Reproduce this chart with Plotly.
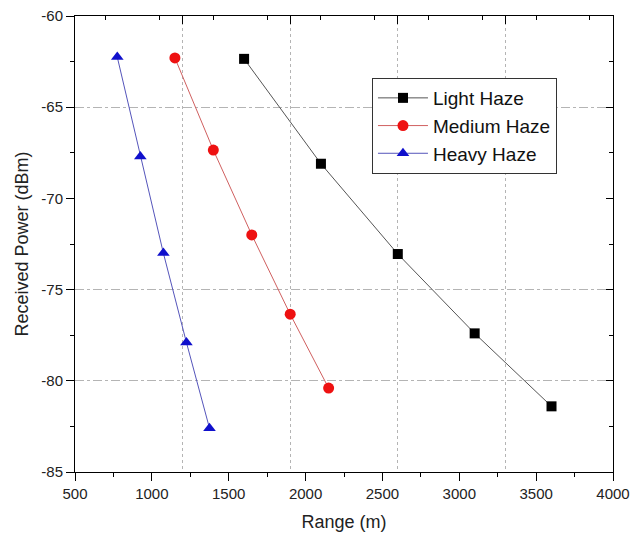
import plotly.graph_objects as go

# Received power versus link range for three haze conditions
light_range = [1600, 2100, 2600, 3100, 3600]
light_power = [-62.35, -68.1, -73.05, -77.4, -81.4]

medium_range = [1150, 1400, 1650, 1900, 2150]
medium_power = [-62.3, -67.35, -72.0, -76.35, -80.4]

heavy_range = [775, 925, 1075, 1225, 1375]
heavy_power = [-62.25, -67.7, -73.0, -77.9, -82.6]

x_range = [500, 4000]
y_range = [-85, -60]
x_ticks = [500, 1000, 1500, 2000, 2500, 3000, 3500, 4000]
y_ticks = [-85, -80, -75, -70, -65, -60]
grid_power = [-65, -75, -80]

FONT = "Liberation Sans, Arial, sans-serif"

fig = go.Figure()

fig.add_trace(go.Scatter(
    x=light_range, y=light_power, name="Light Haze", mode="lines+markers",
    line=dict(color="#555555", width=1),
    marker=dict(symbol="square", size=10, color="black"),
))
fig.add_trace(go.Scatter(
    x=medium_range, y=medium_power, name="Medium Haze", mode="lines+markers",
    line=dict(color="#d06060", width=1),
    marker=dict(symbol="circle", size=11, color="#ee1111"),
))
fig.add_trace(go.Scatter(
    x=heavy_range, y=heavy_power, name="Heavy Haze", mode="lines+markers",
    line=dict(color="#5555bb", width=1),
    marker=dict(symbol="triangle-up", size=11, color="#1010cc"),
))

# transparent carriers so the frame axes (top, right, grid) get drawn
for xa, ya in (("x2", "y2"), ("x2", "y3")):
    fig.add_trace(go.Scatter(
        x=light_range, y=light_power, xaxis=xa, yaxis=ya, mode="markers",
        marker=dict(opacity=0), showlegend=False, hoverinfo="skip",
    ))

tickfont = dict(family=FONT, size=15, color="#222222")
titlefont = dict(family=FONT, size=18, color="#222222")
GRID = "#b4b4b4"

fig.update_layout(
    width=631, height=541,
    margin=dict(l=75, r=18, t=16, b=69),
    paper_bgcolor="white", plot_bgcolor="white",
    showlegend=True,
    legend=dict(
        x=0.552, y=0.864, xanchor="left", yanchor="top",
        bgcolor="white", bordercolor="#333333", borderwidth=1,
        font=dict(family=FONT, size=19, color="#111111"),
        itemwidth=50, tracegroupgap=0,
    ),
    # bottom axis: labelled ticks
    xaxis=dict(
        range=x_range, tickmode="array", tickvals=x_ticks,
        ticktext=[str(v) for v in x_ticks],
        ticks="outside", ticklen=8, tickcolor="black",
        minor=dict(dtick=250, ticks="outside", ticklen=4, tickcolor="black"),
        showline=True, linecolor="black",
        showgrid=False, zeroline=False, automargin=False,
        tickfont=tickfont,
        title=dict(text="Range (m)", font=titlefont, standoff=14),
    ),
    # top axis: inward ticks that carry the vertical grid
    xaxis2=dict(
        range=x_range, overlaying="x", side="top", anchor="y",
        tick0=500, dtick=700,
        ticks="inside", ticklen=8, tickcolor="black",
        minor=dict(dtick=350, ticks="inside", ticklen=4, tickcolor="black"),
        showline=True, linecolor="black",
        showgrid=True, gridcolor=GRID, gridwidth=1, griddash="dot",
        showticklabels=False, zeroline=False, automargin=False,
    ),
    # left axis: labelled ticks
    yaxis=dict(
        range=y_range, tickmode="array", tickvals=y_ticks,
        ticktext=[str(v) for v in y_ticks],
        ticks="outside", ticklen=8, tickcolor="black",
        minor=dict(dtick=2.5, ticks="outside", ticklen=4, tickcolor="black"),
        showline=True, linecolor="black",
        showgrid=False, zeroline=False, automargin=False,
        tickfont=tickfont,
        title=dict(text="Received Power (dBm)", font=titlefont, standoff=8),
    ),
    # right axis: inward ticks
    yaxis2=dict(
        range=y_range, overlaying="y", side="right", anchor="x2",
        tick0=-85, dtick=5,
        ticks="inside", ticklen=7, tickcolor="black",
        minor=dict(dtick=2.5, ticks="inside", ticklen=4, tickcolor="black"),
        showline=True, linecolor="black",
        showgrid=False, showticklabels=False, zeroline=False, automargin=False,
    ),
    # horizontal reference lines
    yaxis3=dict(
        range=y_range, overlaying="y", side="right", anchor="x2",
        tickmode="array", tickvals=grid_power, ticks="",
        showgrid=True, gridcolor=GRID, gridwidth=1, griddash="dashdot",
        showticklabels=False, showline=False, zeroline=False, automargin=False,
    ),
)

fig.write_html("out.html")
